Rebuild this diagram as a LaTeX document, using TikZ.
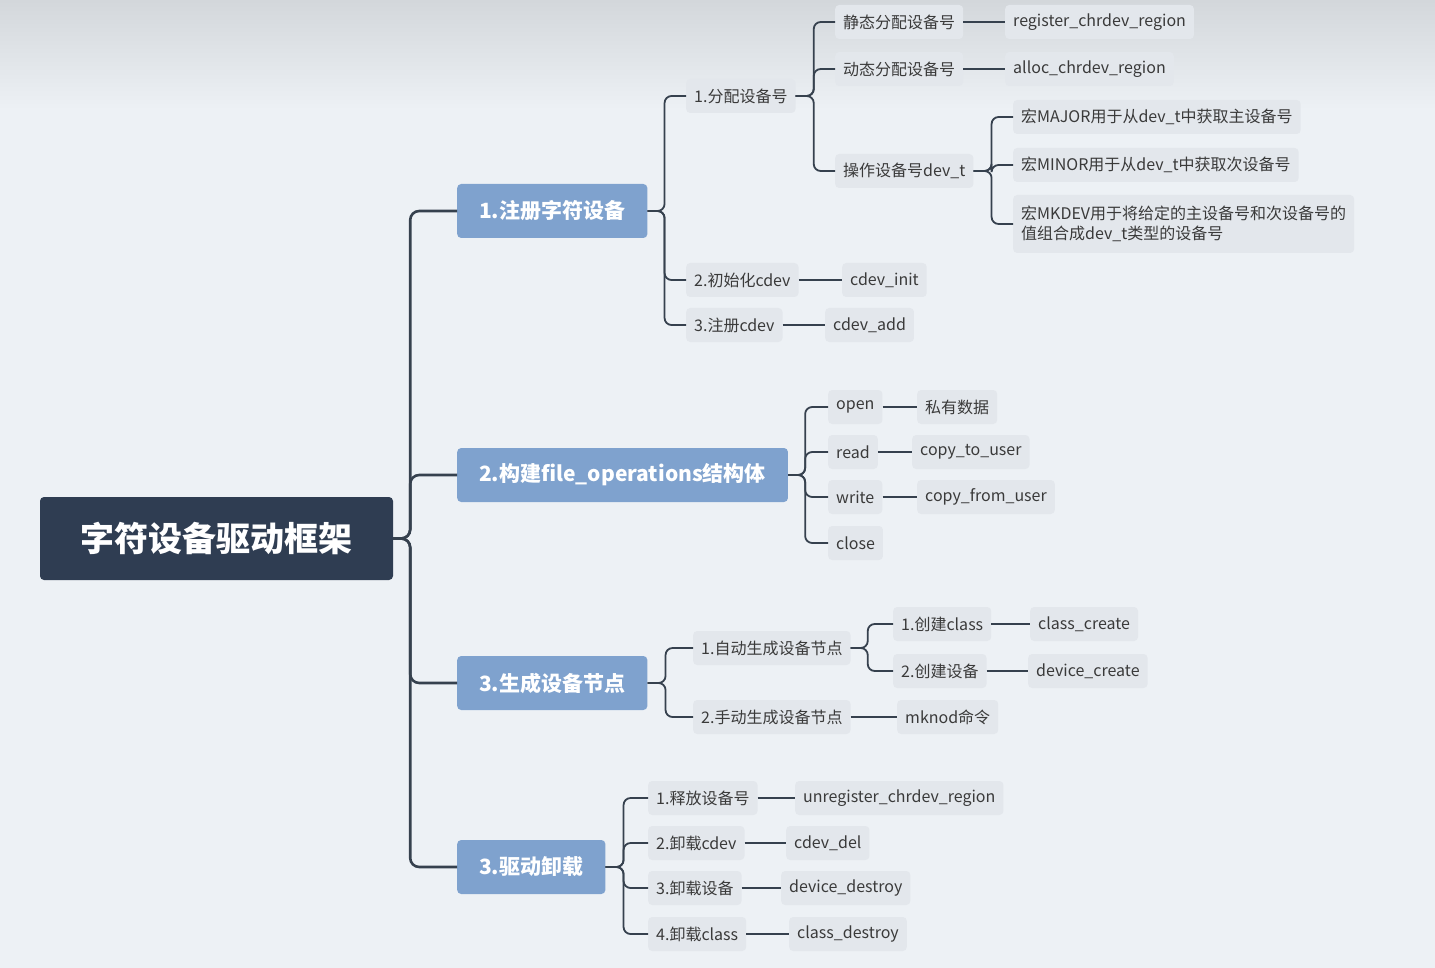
\documentclass[tikz,border=0pt]{standalone}
\usepackage{fontspec}
\setmainfont{Noto Sans CJK SC}
\definecolor{bgc}{HTML}{EDF1F5}
\definecolor{topc}{HTML}{D3D7DB}
\definecolor{leafc}{HTML}{E3E7EC}
\definecolor{branchc}{HTML}{7FA2CE}
\definecolor{rootc}{HTML}{2F3D52}
\definecolor{linec}{HTML}{36414E}
\definecolor{textc}{HTML}{3A3A3A}
\tikzset{
 leaf/.style={anchor=west,fill=leafc,rounded corners=4pt,inner xsep=8pt,minimum height=34pt,text=textc,font=\fontsize{16}{20}\selectfont},
 branch/.style={anchor=west,fill=branchc,rounded corners=4pt,inner xsep=22pt,minimum height=54pt,text=white,font=\fontsize{21}{25}\selectfont\bfseries},
 rootn/.style={fill=rootc,rounded corners=4pt,minimum width=353pt,minimum height=83pt,text=white,font=\fontsize{34}{40}\selectfont\bfseries},
 conn/.style={draw=linec,line width=1.8pt,rounded corners=7pt},
 trunk/.style={draw=linec,line width=2.6pt,rounded corners=9pt}
}
\begin{document}
\begin{tikzpicture}[x=1pt,y=-1pt]
\useasboundingbox (0,0) rectangle (1435,968);
\fill[bgc] (0,0) rectangle (1435,968);
\shade[top color=topc,bottom color=bgc] (0,0) rectangle (1435,110);
% root
\node[rootn] (root) at (216.5,538.5) {字符设备驱动框架};
\node[branch] (b1) at (457,211) {1.注册字符设备};
\node[branch] (b2) at (457,475) {2.构建file\_operations结构体};
\node[branch] (b3) at (457,683) {3.生成设备节点};
\node[branch] (b4) at (457,867) {3.驱动卸载};
\foreach \b in {b1,b2,b3,b4}{\draw[trunk] (root.east) -- ++(17,0) |- (\b.west);}
% branch 1
\node[leaf] (a1) at (686,96) {1.分配设备号};
\node[leaf] (a2) at (686,280) {2.初始化cdev};
\node[leaf] (a3) at (686,325) {3.注册cdev};
\foreach \c in {a1,a2,a3}{\draw[conn] (b1.east) -- ++(17,0) |- (\c.west);}
\node[leaf] (a2x) at (842,280) {cdev\_init};
\node[leaf] (a3x) at (825,325) {cdev\_add};
\draw[conn] (a2.east) -- (a2x.west);
\draw[conn] (a3.east) -- (a3x.west);
\node[leaf] (s1) at (835,22) {静态分配设备号};
\node[leaf] (s2) at (835,69) {动态分配设备号};
\node[leaf] (s3) at (835,171) {操作设备号dev\_t};
\foreach \c in {s1,s2,s3}{\draw[conn] (a1.east) -- ++(18,0) |- (\c.west);}
\node[leaf] (s1x) at (1005,22) {register\_chrdev\_region};
\node[leaf] (s2x) at (1005,69) {alloc\_chrdev\_region};
\draw[conn] (s1.east) -- (s1x.west);
\draw[conn] (s2.east) -- (s2x.west);
\node[leaf] (m1) at (1013,117) {宏MAJOR用于从dev\_t中获取主设备号};
\node[leaf] (m2) at (1013,165) {宏MINOR用于从dev\_t中获取次设备号};
\node[leaf,align=left,minimum height=58pt] (m3) at (1013,224) {宏MKDEV用于将给定的主设备号和次设备号的\\值组合成dev\_t类型的设备号};
\foreach \c in {m1,m2,m3}{\draw[conn] (s3.east) -- ++(18,0) |- (\c.west);}
% branch 2
\node[leaf] (o1) at (828,407) {open};
\node[leaf] (o2) at (828,452) {read};
\node[leaf] (o3) at (828,497) {write};
\node[leaf] (o4) at (828,543) {close};
\foreach \c in {o1,o2,o3,o4}{\draw[conn] (b2.east) -- ++(17,0) |- (\c.west);}
\node[leaf] (o1x) at (917,407) {私有数据};
\node[leaf] (o2x) at (912,452) {copy\_to\_user};
\node[leaf] (o3x) at (917,497) {copy\_from\_user};
\draw[conn] (o1.east) -- (o1x.west);
\draw[conn] (o2.east) -- (o2x.west);
\draw[conn] (o3.east) -- (o3x.west);
% branch 3
\node[leaf] (g1) at (693,648) {1.自动生成设备节点};
\node[leaf] (g2) at (693,717) {2.手动生成设备节点};
\foreach \c in {g1,g2}{\draw[conn] (b3.east) -- ++(18,0) |- (\c.west);}
\node[leaf] (g2x) at (897,717) {mknod命令};
\draw[conn] (g2.east) -- (g2x.west);
\node[leaf] (h1) at (893,624) {1.创建class};
\node[leaf] (h2) at (893,671) {2.创建设备};
\foreach \c in {h1,h2}{\draw[conn] (g1.east) -- ++(17,0) |- (\c.west);}
\node[leaf] (h1x) at (1030,624) {class\_create};
\node[leaf] (h2x) at (1028,671) {device\_create};
\draw[conn] (h1.east) -- (h1x.west);
\draw[conn] (h2.east) -- (h2x.west);
% branch 4
\node[leaf] (u1) at (648,798) {1.释放设备号};
\node[leaf] (u2) at (648,843) {2.卸载cdev};
\node[leaf] (u3) at (648,888) {3.卸载设备};
\node[leaf] (u4) at (648,934) {4.卸载class};
\foreach \c in {u1,u2,u3,u4}{\draw[conn] (b4.east) -- ++(18,0) |- (\c.west);}
\node[leaf] (u1x) at (795,798) {unregister\_chrdev\_region};
\node[leaf] (u2x) at (786,843) {cdev\_del};
\node[leaf] (u3x) at (781,888) {device\_destroy};
\node[leaf] (u4x) at (789,934) {class\_destroy};
\draw[conn] (u1.east) -- (u1x.west);
\draw[conn] (u2.east) -- (u2x.west);
\draw[conn] (u3.east) -- (u3x.west);
\draw[conn] (u4.east) -- (u4x.west);
\end{tikzpicture}
\end{document}
